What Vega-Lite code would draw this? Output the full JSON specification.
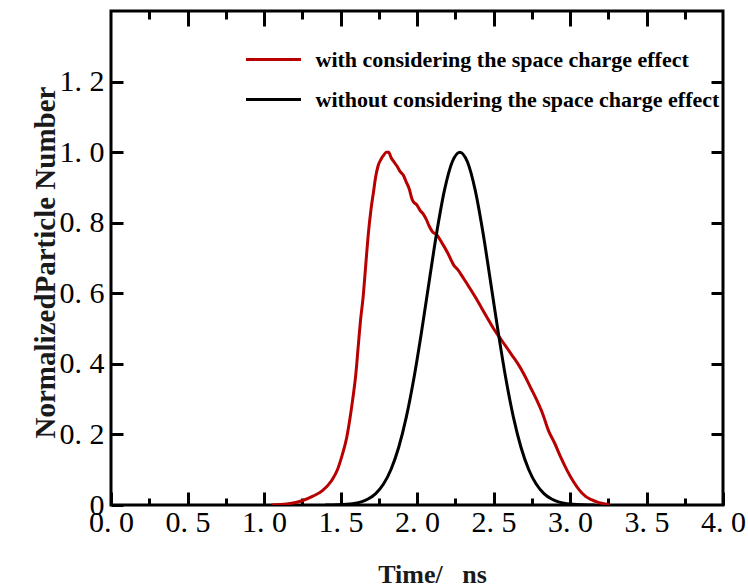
{
  "$schema": "https://vega.github.io/schema/vega-lite/v6.json",
  "width": 612,
  "height": 494,
  "autosize": {"type": "none"},
  "padding": {"left": 111, "top": 11, "right": 25, "bottom": 82},
  "background": "white",
  "datasets": {
    "curves": [
      {"t": 1.05, "n": 0, "series": "with considering the space charge effect"},
      {"t": 1.15, "n": 0.003, "series": "with considering the space charge effect"},
      {"t": 1.25, "n": 0.012, "series": "with considering the space charge effect"},
      {"t": 1.32, "n": 0.025, "series": "with considering the space charge effect"},
      {"t": 1.38, "n": 0.04, "series": "with considering the space charge effect"},
      {"t": 1.44, "n": 0.068, "series": "with considering the space charge effect"},
      {"t": 1.48, "n": 0.1, "series": "with considering the space charge effect"},
      {"t": 1.51, "n": 0.14, "series": "with considering the space charge effect"},
      {"t": 1.54, "n": 0.19, "series": "with considering the space charge effect"},
      {"t": 1.56, "n": 0.24, "series": "with considering the space charge effect"},
      {"t": 1.58, "n": 0.3, "series": "with considering the space charge effect"},
      {"t": 1.6, "n": 0.37, "series": "with considering the space charge effect"},
      {"t": 1.615, "n": 0.445, "series": "with considering the space charge effect"},
      {"t": 1.63, "n": 0.52, "series": "with considering the space charge effect"},
      {"t": 1.648, "n": 0.59, "series": "with considering the space charge effect"},
      {"t": 1.665, "n": 0.68, "series": "with considering the space charge effect"},
      {"t": 1.68, "n": 0.76, "series": "with considering the space charge effect"},
      {"t": 1.7, "n": 0.84, "series": "with considering the space charge effect"},
      {"t": 1.715, "n": 0.885, "series": "with considering the space charge effect"},
      {"t": 1.73, "n": 0.93, "series": "with considering the space charge effect"},
      {"t": 1.745, "n": 0.96, "series": "with considering the space charge effect"},
      {"t": 1.765, "n": 0.98, "series": "with considering the space charge effect"},
      {"t": 1.78, "n": 0.99, "series": "with considering the space charge effect"},
      {"t": 1.8, "n": 1.0, "series": "with considering the space charge effect"},
      {"t": 1.815, "n": 1.0, "series": "with considering the space charge effect"},
      {"t": 1.83, "n": 0.985, "series": "with considering the space charge effect"},
      {"t": 1.845, "n": 0.975, "series": "with considering the space charge effect"},
      {"t": 1.87, "n": 0.96, "series": "with considering the space charge effect"},
      {"t": 1.89, "n": 0.945, "series": "with considering the space charge effect"},
      {"t": 1.91, "n": 0.935, "series": "with considering the space charge effect"},
      {"t": 1.93, "n": 0.915, "series": "with considering the space charge effect"},
      {"t": 1.95, "n": 0.895, "series": "with considering the space charge effect"},
      {"t": 1.965, "n": 0.87, "series": "with considering the space charge effect"},
      {"t": 1.975, "n": 0.86, "series": "with considering the space charge effect"},
      {"t": 2.0, "n": 0.85, "series": "with considering the space charge effect"},
      {"t": 2.02, "n": 0.835, "series": "with considering the space charge effect"},
      {"t": 2.04, "n": 0.825, "series": "with considering the space charge effect"},
      {"t": 2.06, "n": 0.81, "series": "with considering the space charge effect"},
      {"t": 2.08, "n": 0.79, "series": "with considering the space charge effect"},
      {"t": 2.1, "n": 0.775, "series": "with considering the space charge effect"},
      {"t": 2.13, "n": 0.765, "series": "with considering the space charge effect"},
      {"t": 2.16, "n": 0.745, "series": "with considering the space charge effect"},
      {"t": 2.2, "n": 0.715, "series": "with considering the space charge effect"},
      {"t": 2.24, "n": 0.68, "series": "with considering the space charge effect"},
      {"t": 2.27, "n": 0.665, "series": "with considering the space charge effect"},
      {"t": 2.3, "n": 0.645, "series": "with considering the space charge effect"},
      {"t": 2.34, "n": 0.618, "series": "with considering the space charge effect"},
      {"t": 2.38, "n": 0.59, "series": "with considering the space charge effect"},
      {"t": 2.42, "n": 0.56, "series": "with considering the space charge effect"},
      {"t": 2.46, "n": 0.53, "series": "with considering the space charge effect"},
      {"t": 2.5, "n": 0.5, "series": "with considering the space charge effect"},
      {"t": 2.54, "n": 0.475, "series": "with considering the space charge effect"},
      {"t": 2.58, "n": 0.45, "series": "with considering the space charge effect"},
      {"t": 2.62, "n": 0.425, "series": "with considering the space charge effect"},
      {"t": 2.66, "n": 0.4, "series": "with considering the space charge effect"},
      {"t": 2.7, "n": 0.37, "series": "with considering the space charge effect"},
      {"t": 2.74, "n": 0.335, "series": "with considering the space charge effect"},
      {"t": 2.78, "n": 0.3, "series": "with considering the space charge effect"},
      {"t": 2.82, "n": 0.26, "series": "with considering the space charge effect"},
      {"t": 2.86, "n": 0.21, "series": "with considering the space charge effect"},
      {"t": 2.9, "n": 0.175, "series": "with considering the space charge effect"},
      {"t": 2.94, "n": 0.135, "series": "with considering the space charge effect"},
      {"t": 2.98, "n": 0.099, "series": "with considering the space charge effect"},
      {"t": 3.02, "n": 0.068, "series": "with considering the space charge effect"},
      {"t": 3.06, "n": 0.043, "series": "with considering the space charge effect"},
      {"t": 3.1, "n": 0.025, "series": "with considering the space charge effect"},
      {"t": 3.14, "n": 0.015, "series": "with considering the space charge effect"},
      {"t": 3.18, "n": 0.008, "series": "with considering the space charge effect"},
      {"t": 3.22, "n": 0.004, "series": "with considering the space charge effect"},
      {"t": 3.26, "n": 0, "series": "with considering the space charge effect"},
      {"t": 1.4, "n": 0, "series": "without considering the space charge effect"},
      {"t": 1.48, "n": 0.0007, "series": "without considering the space charge effect"},
      {"t": 1.58, "n": 0.0039, "series": "without considering the space charge effect"},
      {"t": 1.63, "n": 0.0083, "series": "without considering the space charge effect"},
      {"t": 1.68, "n": 0.0169, "series": "without considering the space charge effect"},
      {"t": 1.73, "n": 0.0324, "series": "without considering the space charge effect"},
      {"t": 1.78, "n": 0.0587, "series": "without considering the space charge effect"},
      {"t": 1.83, "n": 0.1007, "series": "without considering the space charge effect"},
      {"t": 1.88, "n": 0.163, "series": "without considering the space charge effect"},
      {"t": 1.93, "n": 0.249, "series": "without considering the space charge effect"},
      {"t": 1.98, "n": 0.36, "series": "without considering the space charge effect"},
      {"t": 2.03, "n": 0.492, "series": "without considering the space charge effect"},
      {"t": 2.08, "n": 0.635, "series": "without considering the space charge effect"},
      {"t": 2.13, "n": 0.775, "series": "without considering the space charge effect"},
      {"t": 2.18, "n": 0.893, "series": "without considering the space charge effect"},
      {"t": 2.23, "n": 0.972, "series": "without considering the space charge effect"},
      {"t": 2.28, "n": 1.0, "series": "without considering the space charge effect"},
      {"t": 2.33, "n": 0.972, "series": "without considering the space charge effect"},
      {"t": 2.38, "n": 0.893, "series": "without considering the space charge effect"},
      {"t": 2.43, "n": 0.775, "series": "without considering the space charge effect"},
      {"t": 2.48, "n": 0.635, "series": "without considering the space charge effect"},
      {"t": 2.53, "n": 0.492, "series": "without considering the space charge effect"},
      {"t": 2.58, "n": 0.36, "series": "without considering the space charge effect"},
      {"t": 2.63, "n": 0.249, "series": "without considering the space charge effect"},
      {"t": 2.68, "n": 0.163, "series": "without considering the space charge effect"},
      {"t": 2.73, "n": 0.1007, "series": "without considering the space charge effect"},
      {"t": 2.78, "n": 0.0587, "series": "without considering the space charge effect"},
      {"t": 2.83, "n": 0.0324, "series": "without considering the space charge effect"},
      {"t": 2.88, "n": 0.0169, "series": "without considering the space charge effect"},
      {"t": 2.93, "n": 0.0083, "series": "without considering the space charge effect"},
      {"t": 2.98, "n": 0.0039, "series": "without considering the space charge effect"},
      {"t": 3.08, "n": 0.0007, "series": "without considering the space charge effect"},
      {"t": 3.16, "n": 0, "series": "without considering the space charge effect"}
    ]
  },
  "data": {"name": "curves"},
  "layer": [
    {
      "mark": {"type": "line", "strokeWidth": 3, "clip": true, "interpolate": "monotone"},
      "encoding": {
        "x": {
          "field": "t", "type": "quantitative",
          "scale": {"domain": [0, 4], "nice": false, "zero": false},
          "axis": {
            "orient": "bottom",
            "values": [0, 0.5, 1, 1.5, 2, 2.5, 3, 3.5, 4],
            "tickSize": -13,
            "labelPadding": 15,
            "labelFlush": false,
            "labelOverlap": false,
            "labelExpr": "replace(format(datum.value, '.1f'), '.', '. ')",
            "title": "Time/\u00a0\u00a0\u00a0ns",
            "titleFontSize": 26,
            "titleX": 321,
            "titleY": 77,
            "titleAlign": "center",
            "titleBaseline": "alphabetic"
          }
        },
        "y": {
          "field": "n", "type": "quantitative",
          "scale": {"domain": [0, 1.4], "nice": false},
          "axis": {
            "orient": "left",
            "values": [0, 0.2, 0.4, 0.6, 0.8, 1.0, 1.2],
            "tickSize": -12,
            "labelPadding": 19,
            "labelFlush": false,
            "labelOverlap": false,
            "labelExpr": "datum.value == 0 ? '0' : replace(format(datum.value, '.1f'), '.', '. ')",
            "title": "NormalizedParticle Number",
            "titleFontSize": 29,
            "titleX": -66,
            "titleY": 251,
            "titleAngle": -90,
            "titleAlign": "center",
            "titleBaseline": "middle"
          }
        },
        "color": {
          "field": "series", "type": "nominal",
          "scale": {
            "domain": ["with considering the space charge effect", "without considering the space charge effect"],
            "range": ["#b80000", "#000000"]
          },
          "legend": {
            "title": null,
            "orient": "none",
            "legendX": 133.5,
            "legendY": 19.5,
            "symbolType": "stroke",
            "symbolSize": 3025,
            "symbolStrokeWidth": 3,
            "symbolOffset": 0,
            "padding": 0,
            "labelOffset": 13,
            "rowPadding": -7,
            "labelFont": "Liberation Serif",
            "labelFontWeight": "bold",
            "labelFontSize": 22,
            "labelColor": "#000000",
            "labelLimit": 0
          }
        }
      }
    },
    {
      "mark": {"type": "point", "opacity": 0},
      "encoding": {
        "x": {
          "field": "t", "type": "quantitative",
          "axis": {
            "orient": "bottom",
            "values": [0.25, 0.75, 1.25, 1.75, 2.25, 2.75, 3.25, 3.75],
            "tickSize": -7,
            "labels": false,
            "title": null
          }
        },
        "y": {
          "field": "n", "type": "quantitative",
          "axis": {
            "orient": "right",
            "values": [0.2, 0.4, 0.6, 0.8, 1.0, 1.2],
            "tickSize": -12,
            "labels": false,
            "title": null
          }
        }
      }
    },
    {
      "mark": {"type": "point", "opacity": 0},
      "encoding": {
        "x": {
          "field": "t", "type": "quantitative",
          "axis": {
            "orient": "top",
            "values": [0.5, 1, 1.5, 2, 2.5, 3, 3.5],
            "tickSize": -15,
            "labels": false,
            "title": null
          }
        },
        "y": {"field": "n", "type": "quantitative", "axis": null}
      }
    },
    {
      "mark": {"type": "point", "opacity": 0},
      "encoding": {
        "x": {
          "field": "t", "type": "quantitative",
          "axis": {
            "orient": "top",
            "values": [0.25, 0.75, 1.25, 1.75, 2.25, 2.75, 3.25, 3.75],
            "tickSize": -8,
            "labels": false,
            "title": null
          }
        },
        "y": {"field": "n", "type": "quantitative", "axis": null}
      }
    }
  ],
  "resolve": {"axis": {"x": "independent", "y": "independent"}},
  "config": {
    "view": {"stroke": "#000000", "strokeWidth": 3},
    "axis": {
      "domain": false,
      "grid": false,
      "tickColor": "#000000",
      "tickWidth": 3,
      "labelFont": "Liberation Serif",
      "labelFontSize": 30,
      "labelColor": "#000000",
      "titleFont": "Liberation Serif",
      "titleFontWeight": "bold",
      "titleColor": "#1a1a1a"
    }
  }
}
